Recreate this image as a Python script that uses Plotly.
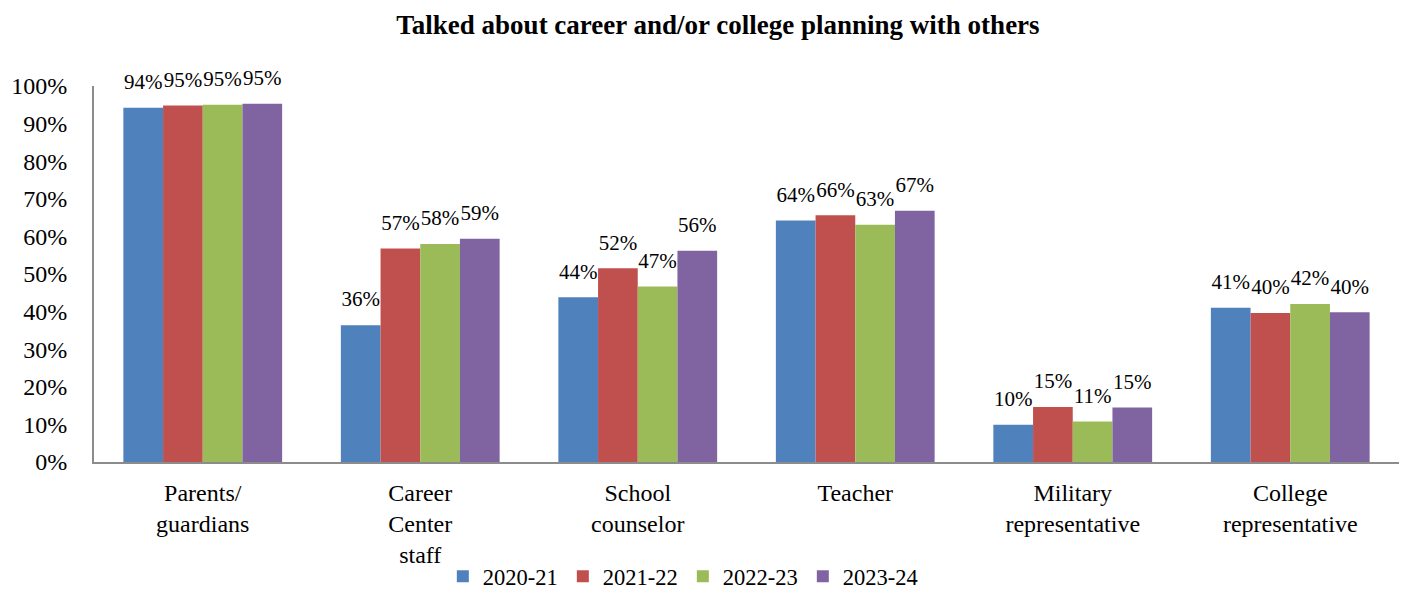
import plotly.graph_objects as go

categories = [
    "Parents/<br>guardians",
    "Career<br>Center<br>staff",
    "School<br>counselor",
    "Teacher",
    "Military<br>representative",
    "College<br>representative",
]
years = ["2020-21", "2021-22", "2022-23", "2023-24"]
values_2020_21 = [94.2, 36.4, 43.8, 64.2, 9.9, 41.0]
values_2021_22 = [94.8, 56.8, 51.5, 65.6, 14.6, 39.6]
values_2022_23 = [95.0, 58.0, 46.7, 63.1, 10.8, 42.0]
values_2023_24 = [95.3, 59.4, 56.2, 66.8, 14.5, 39.8]
series = [values_2020_21, values_2021_22, values_2022_23, values_2023_24]
colors = ["#4F81BD", "#C0504D", "#9BBB59", "#8064A2"]
tick_vals = list(range(0, 101, 10))
tick_text = [f"{v}%" for v in tick_vals]

FONT = "Liberation Serif"
GAP = 0.27

fig = go.Figure()
for name, vals, color in zip(years, series, colors):
    fig.add_trace(go.Bar(
        name=name,
        x=categories,
        y=vals,
        marker=dict(color=color, line=dict(width=0)),
        hoverinfo="skip",
    ))
# value labels, grouped the same way as the bars and lifted a little above them
for name, vals in zip(years, series):
    fig.add_trace(go.Scatter(
        name=name,
        x=categories,
        y=vals,
        mode="markers+text",
        marker=dict(size=20, opacity=0),
        texttemplate="%{y:.0f}%",
        textposition="top center",
        textfont=dict(family=FONT, size=21, color="#000000"),
        cliponaxis=False,
        showlegend=False,
        hoverinfo="skip",
    ))

fig.update_layout(
    width=1405,
    height=592,
    barmode="group",
    bargap=GAP,
    bargroupgap=0,
    scattermode="group",
    scattergap=GAP,
    plot_bgcolor="white",
    paper_bgcolor="white",
    margin=dict(l=94, r=6, t=86, b=130, autoexpand=False),
    font=dict(family=FONT, size=24, color="#000000"),
    title=dict(
        text="<b>Talked about career and/or college planning with others</b>",
        x=0.511, xanchor="center", xref="container",
        y=0.958, yanchor="middle", yref="container",
        font=dict(family=FONT, size=27, color="#000000"),
    ),
    legend=dict(
        orientation="h",
        x=0.486, xanchor="center", xref="container",
        y=0.026, yanchor="middle", yref="container",
        font=dict(family=FONT, size=22.5, color="#000000"),
        itemwidth=30,
        tracegroupgap=0,
    ),
    showlegend=True,
)
fig.update_xaxes(
    showline=True, linecolor="#8c8c8c", linewidth=2,
    showgrid=False, ticks="", automargin=False,
    ticklabelstandoff=8,
    tickfont=dict(family=FONT, size=24, color="#000000"),
)
fig.update_yaxes(
    range=[0, 100],
    tickvals=tick_vals, ticktext=tick_text,
    showline=True, linecolor="#8c8c8c", linewidth=2,
    showgrid=False, zeroline=False, ticks="", automargin=False,
    ticklabelstandoff=20,
    tickfont=dict(family=FONT, size=24, color="#000000"),
)

fig.write_html("out.html")
